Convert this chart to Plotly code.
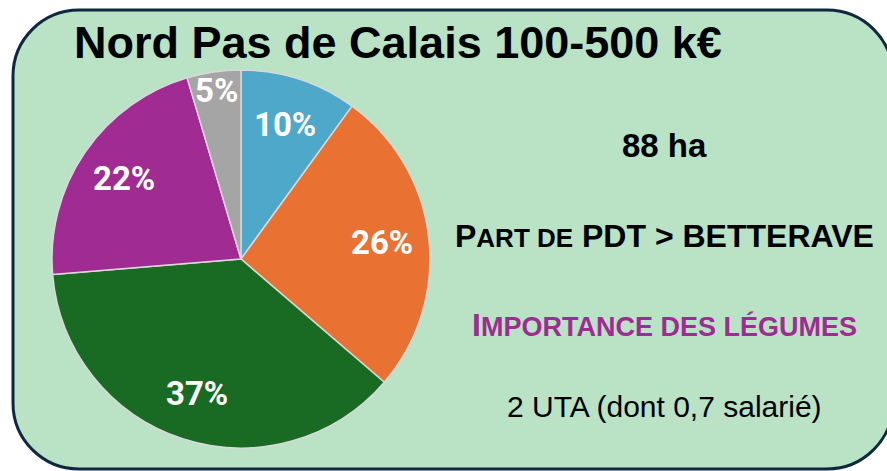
import math
import plotly.graph_objects as go

# ---------------- data ----------------
categories = ["Catégorie A", "Catégorie B", "Catégorie C", "Catégorie D", "Catégorie E"]
values = [10.0, 26.3, 37.4, 21.7, 4.6]
slice_colors = ["#4DA8CA", "#E97132", "#196B24", "#A02B93", "#A5A5A5"]
title_text = "Nord Pas de Calais 100-500 k€"
info_lines = [
    "88 ha",
    "P<span style='font-size:26px'>ART DE</span> PDT &gt; BETTERAVE",
    "I<span style='font-size:27px'>MPORTANCE DES LÉGUMES</span>",
    "2 UTA (dont 0,7 salarié)",
]

# ---------------- layout geometry (pixels) ----------------
W, H = 887, 471
PIE_LEFT, PIE_TOP, PIE_D = 52, 70, 378
CX, CY, R = PIE_LEFT + PIE_D / 2, PIE_TOP + PIE_D / 2, PIE_D / 2


def px(x):
    return x / W


def py(y):
    return 1 - y / H


fig = go.Figure()
fig.add_trace(go.Pie(
    labels=categories,
    values=values,
    sort=False,
    direction="clockwise",
    rotation=0,
    marker=dict(colors=slice_colors, line=dict(color="#D9D9D9", width=1.5)),
    textinfo="none",
    hoverinfo="label+percent",
    showlegend=False,
    domain=dict(x=[px(PIE_LEFT), px(PIE_LEFT + PIE_D)],
                y=[py(PIE_TOP + PIE_D), py(PIE_TOP)]),
))

annotations = []
# percentage labels inside slices, positioned from the data
total = sum(values)
cum = 0.0
for v in values:
    frac = v / total
    mid = cum + frac / 2
    cum += frac
    theta = 2 * math.pi * mid
    rf = 0.75 if frac >= 0.08 else 0.9
    lx = CX + rf * R * math.sin(theta)
    ly = CY - rf * R * math.cos(theta)
    annotations.append(dict(
        x=px(lx), y=py(ly), xref="paper", yref="paper",
        text=f"{round(frac * 100):d}%", showarrow=False,
        xanchor="center", yanchor="middle",
        font=dict(family="Roboto", size=33, color="white", weight="bold"),
    ))

# title
annotations.append(dict(
    x=px(398), y=py(43), xref="paper", yref="paper", text=title_text,
    showarrow=False, xanchor="center", yanchor="middle",
    font=dict(family="Liberation Sans", size=45, color="black", weight="bold"),
))

# info texts
info_y = [146, 236, 325, 406]
info_fonts = [
    dict(family="Liberation Sans", size=33, color="black", weight="bold"),
    dict(family="Liberation Sans", size=32, color="black", weight="bold"),
    dict(family="Liberation Sans", size=32, color="#A02B93", weight="bold"),
    dict(family="Liberation Sans", size=30, color="black"),
]
for t, yy, f in zip(info_lines, info_y, info_fonts):
    annotations.append(dict(
        x=px(664), y=py(yy), xref="paper", yref="paper", text=t,
        showarrow=False, xanchor="center", yanchor="middle", font=f,
    ))

# rounded rectangle background
x0, y0, x1, y1, rr = 13, 10, 893, 469, 66
k = 0.5523 * rr


def P(x, y):
    return f"{px(x):.5f},{py(y):.5f}"


path = (
    f"M {P(x0 + rr, y0)} L {P(x1 - rr, y0)} "
    f"C {P(x1 - rr + k, y0)} {P(x1, y0 + rr - k)} {P(x1, y0 + rr)} "
    f"L {P(x1, y1 - rr)} "
    f"C {P(x1, y1 - rr + k)} {P(x1 - rr + k, y1)} {P(x1 - rr, y1)} "
    f"L {P(x0 + rr, y1)} "
    f"C {P(x0 + rr - k, y1)} {P(x0, y1 - rr + k)} {P(x0, y1 - rr)} "
    f"L {P(x0, y0 + rr)} "
    f"C {P(x0, y0 + rr - k)} {P(x0 + rr - k, y0)} {P(x0 + rr, y0)} Z"
)

fig.update_layout(
    width=W, height=H,
    margin=dict(l=0, r=0, t=0, b=0),
    paper_bgcolor="white",
    plot_bgcolor="white",
    annotations=annotations,
    shapes=[dict(type="path", path=path, xref="paper", yref="paper",
                 fillcolor="#BAE2C4", line=dict(color="#0E2841", width=3),
                 layer="below")],
)

fig.write_html(
    "out.html",
    config={"displayModeBar": False},
    post_script="document.body.style.margin='0';document.body.style.overflow='hidden';",
)
